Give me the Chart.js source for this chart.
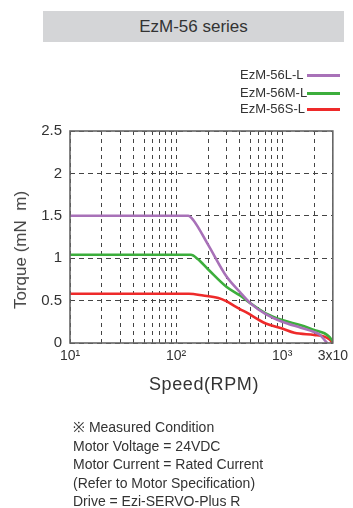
<!DOCTYPE html>
<html>
<head>
<meta charset="utf-8">
<script src="https://cdn.jsdelivr.net/npm/chart.js@4/dist/chart.umd.min.js"></script>
<style>
  html, body { margin:0; padding:0; background:#fff; }
  #wrap { position:relative; width:353px; height:508px; overflow:hidden; font-family:"Liberation Sans", Arial, sans-serif; color:#333; }
  canvas { position:absolute; left:0; top:0; }
  .abs { position:absolute; white-space:nowrap; }
  #titlebox { left:43px; top:11px; width:301px; height:31px; background:#d4d5d7; text-align:center; line-height:31px; font-size:17px; color:#333; }
  .leg { font-family:"Liberation Sans Narrow","Liberation Sans",sans-serif; font-size:13px; color:#333; left:240px; line-height:14px; }
  .legline { position:absolute; left:307px; width:33px; height:3px; }
  #ytitle { left:21px; top:250px; transform:translate(-50%,-50%) rotate(-90deg); font-size:17px; color:#444; }
  #xtitle { left:204px; top:384px; transform:translate(-50%,-50%); font-size:18px; letter-spacing:0.6px; color:#333; }
  #notes { left:73px; top:418px; font-size:14px; line-height:18.5px; color:#333; }
</style>
</head>
<body>
<div id="wrap">
  <canvas id="c" width="353" height="508"></canvas>
  <div id="titlebox" class="abs">EzM-56 series</div>
  <div class="abs leg" style="top:68px">EzM-56L-L</div>
  <div class="abs leg" style="top:86px">EzM-56M-L</div>
  <div class="abs leg" style="top:102px">EzM-56S-L</div>
  <div class="legline" style="top:73.5px;background:#a871b8"></div>
  <div class="legline" style="top:92px;background:#3cae3c"></div>
  <div class="legline" style="top:107.5px;background:#ee2a2a"></div>
  <div id="ytitle" class="abs">Torque (mN&nbsp;&nbsp;m)</div>
  <div id="xtitle" class="abs">Speed(RPM)</div>
  <div id="notes" class="abs">※ Measured Condition<br>Motor Voltage = 24VDC<br>Motor Current = Rated Current<br>(Refer to Motor Specification)<br>Drive = Ezi-SERVO-Plus R</div>
</div>
<script>
// ---- data (speed in RPM, torque in mN·m) ----
const seriesNames = ["EzM-56L-L", "EzM-56M-L", "EzM-56S-L"];
const seriesColors = ["#a871b8", "#3cae3c", "#ee2a2a"];

const speedL  = [10, 130, 145, 200, 300, 400, 500, 700, 1000, 1500, 2000, 2250, 2450, 2650];
const torqueL = [1.5, 1.5, 1.45, 1.16, 0.78, 0.60, 0.47, 0.34, 0.25, 0.18, 0.13, 0.10, 0.05, 0.0];

const speedM  = [10, 138, 160, 200, 300, 400, 500, 700, 1000, 1500, 2000, 2500, 2800, 3000];
const torqueM = [1.04, 1.04, 0.99, 0.87, 0.66, 0.56, 0.47, 0.35, 0.27, 0.21, 0.155, 0.115, 0.07, 0.02];

const speedS  = [10, 132, 180, 250, 300, 350, 400, 460, 700, 1000, 1300, 2000, 2500, 2800, 3000];
const torqueS = [0.58, 0.58, 0.56, 0.53, 0.49, 0.44, 0.40, 0.36, 0.23, 0.17, 0.12, 0.095, 0.075, 0.04, 0.0];

const xTickValues = [10,20,30,40,50,60,70,80,90,100,200,300,400,500,600,700,800,900,1000,2000,3000];
const xTickLabels = {10:"10¹", 100:"10²", 1000:"10³", 3000:"3x10"};
const yTickValues = [0, 0.5, 1, 1.5, 2, 2.5];
const yTickLabels = ["0", "0.5", "1", "1.5", "2", "2.5"];

const pts = (xs, ys) => xs.map((x, i) => ({x: x, y: ys[i]}));
const allSpeeds = [speedL, speedM, speedS];
const allTorques = [torqueL, torqueM, torqueS];

const frame = {
  id: 'frame',
  afterDraw(chart) {
    const {ctx, chartArea: a} = chart;
    ctx.save();
    ctx.strokeStyle = '#666';
    ctx.lineWidth = 1.6;
    ctx.strokeRect(a.left, a.top, a.right - a.left, a.bottom - a.top);
    ctx.restore();
  }
};

new Chart(document.getElementById('c'), {
  type: 'line',
  data: {
    datasets: seriesNames.map((n, i) => ({
      label: n,
      data: pts(allSpeeds[i], allTorques[i]),
      borderColor: seriesColors[i],
      borderWidth: 2.6,
      pointRadius: 0,
      fill: false,
      cubicInterpolationMode: 'monotone'
    }))
  },
  options: {
    responsive: false,
    animation: false,
    devicePixelRatio: 1,
    layout: { padding: { left: 0, top: 131, right: 13, bottom: 0 } },
    plugins: { legend: { display: false }, tooltip: { enabled: false } },
    scales: {
      x: {
        type: 'logarithmic',
        min: 10, max: 3000,
        afterFit(s) { s.height = 165; },
        afterBuildTicks(s) { s.ticks = xTickValues.map(v => ({value: v})); },
        ticks: {
          autoSkip: false, maxRotation: 0, padding: 5,
          font: { family: 'Liberation Sans', size: 14 }, color: '#333',
          callback: (v) => xTickLabels[v] || ''
        },
        grid: { color: '#444', lineWidth: 1, drawTicks: false },
        border: { display: false, dash: [4, 4] }
      },
      y: {
        min: 0, max: 2.5,
        afterFit(s) { s.width = 70; },
        afterBuildTicks(s) { s.ticks = yTickValues.map(v => ({value: v})); },
        ticks: {
          padding: 8,
          font: { family: 'Liberation Sans', size: 15 }, color: '#333',
          callback: (v) => { const k = yTickValues.indexOf(v); return k >= 0 ? yTickLabels[k] : ''; }
        },
        grid: { color: '#444', lineWidth: 1, drawTicks: false },
        border: { display: false, dash: [5, 4] }
      }
    }
  },
  plugins: [frame]
});
</script>
</body>
</html>
